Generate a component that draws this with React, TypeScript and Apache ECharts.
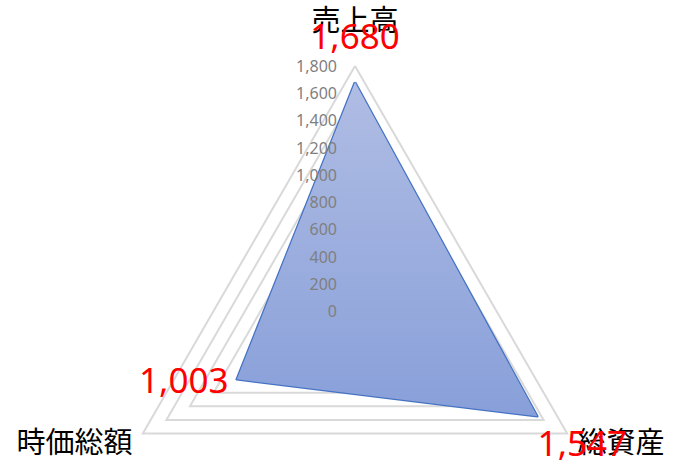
import { useEffect, useRef } from 'react';
import * as echarts from 'echarts';

const indicatorNames = ['売上高', '時価総額', '総資産'];
const indicatorGaps = [34, 12, 12];
const values = [1680, 1003, 1547];
const axisMax = 1800;
const axisSplits = 9;

const fmt = (v: number) => v.toLocaleString('en-US');

export default function App() {
  const ref = useRef<HTMLDivElement>(null);

  useEffect(() => {
    if (!ref.current) {
      return undefined;
    }

    const chart = echarts.init(ref.current, undefined, { renderer: 'svg' });
    const base = {
      center: [355, 311],
      radius: 245,
      startAngle: 90,
      shape: 'polygon' as const,
      splitNumber: axisSplits,
      axisLine: { show: false },
      axisTick: { show: false },
      splitArea: { show: false },
    };
    const valueLabel = { color: '#ff0000', fontSize: 35, fontFamily: 'Noto Sans' };
    const option: echarts.EChartsOption = {
      animation: false,
      backgroundColor: '#fff',
      radar: [
        {
          ...base,
          z: 1,
          indicator: indicatorNames.map((name, i) => ({
            name,
            min: 0,
            max: axisMax,
            nameGap: indicatorGaps[i],
          })) as any,
          axisName: {
            color: '#000',
            fontSize: 29,
            fontFamily: 'Noto Sans CJK JP',
          },
          splitLine: { lineStyle: { color: '#d9d9d9', width: 2 } },
          axisLabel: { show: false },
        },
        {
          // overlay carrying the value scale above the filled area
          ...base,
          z: 5,
          indicator: indicatorNames.map((name, i) => ({
            name,
            min: 0,
            max: axisMax,
            axisLabel: { show: i === 0 },
          })) as any,
          axisName: { show: false },
          splitLine: { show: false },
          axisLabel: {
            show: false,
            color: '#7f7f7f',
            fontSize: 16,
            fontFamily: 'Noto Sans',
            margin: 18,
            formatter: (v: number) => fmt(v),
          },
        },
      ],
      series: [
        {
          type: 'radar',
          radarIndex: 0,
          z: 2,
          symbol: 'circle',
          symbolSize: 0.1,
          itemStyle: { color: 'rgba(0,0,0,0)' },
          lineStyle: { color: '#4472c4', width: 2.5 },
          areaStyle: {
            opacity: 1,
            color: new echarts.graphic.LinearGradient(0, 0, 0, 1, [
              { offset: 0, color: '#b0bde4' },
              { offset: 1, color: '#889fd9' },
            ]),
          },
          label: {
            show: true,
            position: 'inside',
            formatter: (p: any) => {
              const v = p.value as number;
              const idx = values.indexOf(v);
              const key = idx === 0 ? 'top' : idx === 1 ? 'left' : 'right';
              return `{${key}|${fmt(v)}}`;
            },
            rich: {
              top: { ...valueLabel, padding: [0, 0, 94, 0] },
              left: { ...valueLabel, padding: [0, 106, 0, 0] },
              right: { ...valueLabel, padding: [52, 0, 0, 90] },
            },
          },
          data: [{ value: values, name: 'データ' }],
        },
      ],
    };

    chart.setOption(option);
    return () => {
      chart.dispose();
    };
  }, []);

  return <div ref={ref} style={{ position: 'fixed', left: 0, top: 0, width: 676, height: 460 }} />;
}
